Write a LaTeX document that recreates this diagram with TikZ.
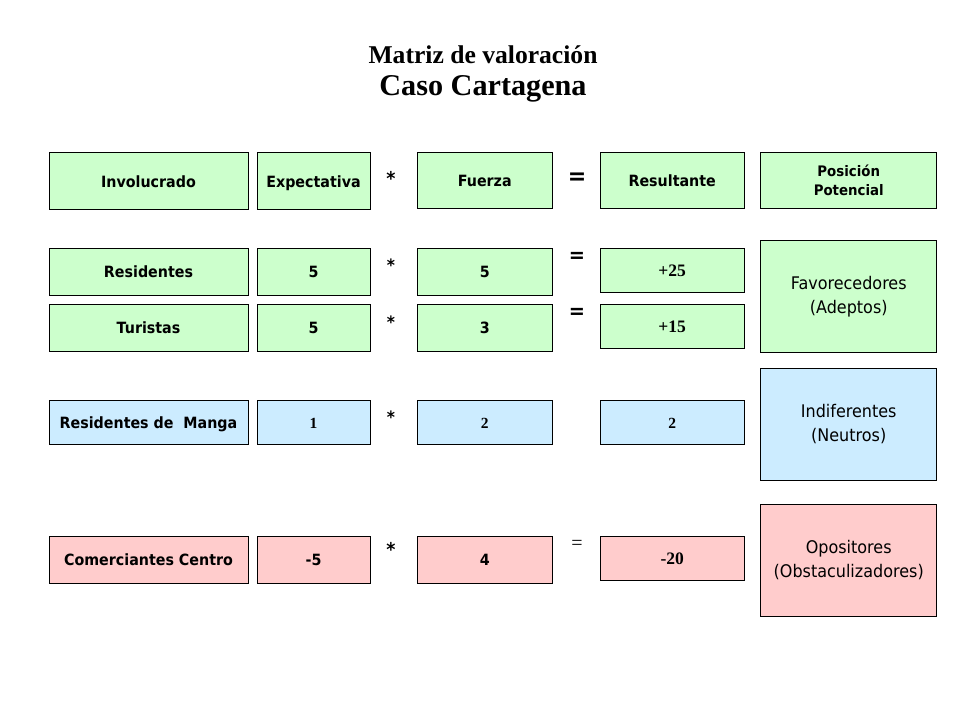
\documentclass[tikz,border=0pt]{standalone}
\usepackage{fontspec}
\setmainfont{Liberation Serif}
\setsansfont{DejaVu Sans}[FakeStretch=0.92]
\definecolor{gr}{HTML}{CCFFCC}
\definecolor{bl}{HTML}{CCECFF}
\definecolor{pk}{HTML}{FFCCCC}
\begin{document}
\begin{tikzpicture}[x=1pt,y=-1pt,
  bx/.style={draw=black,line width=0.9pt,inner sep=0pt,align=center},
  one/.style={text height=11.4pt,text depth=0pt},
  hd/.style={bx,one,font=\sffamily\bfseries\fontsize{15.5}{17}\selectfont},
  sv/.style={bx,one,font=\rmfamily\bfseries\fontsize{17.5}{19}\selectfont},
  ss/.style={bx,one,font=\rmfamily\bfseries\fontsize{15.5}{17}\selectfont},
  big/.style={bx,font=\sffamily\fontsize{17.4}{24.5}\selectfont},
  op/.style={inner sep=0pt,font=\sffamily\bfseries\fontsize{17}{18}\selectfont},
  c1/.style={minimum width=199pt},
  c2/.style={minimum width=113pt},
  c3/.style={minimum width=135.5pt},
  c4/.style={minimum width=144.3pt},
  c5/.style={minimum width=176pt}]
\useasboundingbox (0,0) rectangle (960,720);
% title
\node[font=\rmfamily\bfseries\fontsize{25.6}{28}\selectfont,anchor=base] (t1) at (483,63) {Matriz de valoración};
\node[font=\rmfamily\bfseries\fontsize{30.2}{32}\selectfont,anchor=base] (t2) at (483,95) {Caso Cartagena};
% header row
\node[hd,c1,minimum height=57pt,fill=gr] (h1) at (148.5,181.3) {Involucrado};
\node[hd,c2,minimum height=57pt,fill=gr] (h2) at (313.5,181.3) {Expectativa};
\node[hd,c3,minimum height=55.6pt,fill=gr] (h3) at (484.75,180.5) {Fuerza};
\node[hd,c4,minimum height=55.6pt,fill=gr] (h4) at (672.2,180.5) {Resultante};
\node[bx,c5,minimum height=55.6pt,fill=gr,font=\sffamily\bfseries\fontsize{14.5}{18.4}\selectfont] (h5) at (848.7,180.5) {Posición\\Potencial};
\node[op,font=\sffamily\bfseries\fontsize{19}{20}\selectfont] (hs) at (391,178) {*};
\node[op,font=\sffamily\bfseries\fontsize{24}{26}\selectfont] (he) at (577,179) {=};
% Residentes
\node[hd,c1,minimum height=47.2pt,fill=gr] (r1) at (148.5,271.9) {Residentes};
\node[hd,c2,minimum height=47.2pt,fill=gr] (r2) at (313.5,271.9) {5};
\node[hd,c3,minimum height=47.2pt,fill=gr] (r3) at (484.75,271.9) {5};
\node[sv,c4,minimum height=44pt,fill=gr] (r4) at (672.2,270.3) {+25};
\node[op] (rs) at (391,265) {*};
\node[op,font=\sffamily\bfseries\fontsize{21}{22}\selectfont] (re) at (577,257) {=};
% Turistas
\node[hd,c1,minimum height=47.4pt,fill=gr] (u1) at (148.5,328) {Turistas};
\node[hd,c2,minimum height=47.4pt,fill=gr] (u2) at (313.5,328) {5};
\node[hd,c3,minimum height=47.4pt,fill=gr] (u3) at (484.75,328) {3};
\node[sv,c4,minimum height=44pt,fill=gr] (u4) at (672.2,326.3) {+15};
\node[op] (us) at (391,322) {*};
\node[op,font=\sffamily\bfseries\fontsize{21}{22}\selectfont] (ue) at (577,313) {=};
% Favorecedores
\node[big,c5,minimum height=111.6pt,fill=gr] (p1) at (848.7,296.5) {Favorecedores\\(Adeptos)};
% Manga
\node[hd,c1,minimum height=43.6pt,fill=bl] (m1) at (148.5,422.5) {Residentes de\ \ Manga};
\node[ss,c2,minimum height=43.6pt,fill=bl] (m2) at (313.5,422.5) {1};
\node[ss,c3,minimum height=43.6pt,fill=bl] (m3) at (484.75,422.5) {2};
\node[ss,c4,minimum height=43.6pt,fill=bl] (m4) at (672.2,422.5) {2};
\node[op] (ms) at (391,417) {*};
\node[big,c5,minimum height=111.7pt,fill=bl] (p2) at (848.7,424.2) {Indiferentes\\(Neutros)};
% Comerciantes
\node[hd,c1,minimum height=46.6pt,fill=pk] (k1) at (148.5,560) {Comerciantes Centro};
\node[hd,c2,minimum height=46.6pt,fill=pk] (k2) at (313.5,560) {-5};
\node[hd,c3,minimum height=46.6pt,fill=pk] (k3) at (484.75,560) {4};
\node[sv,c4,minimum height=43.3pt,fill=pk] (k4) at (672.2,558.3) {-20};
\node[op,font=\sffamily\bfseries\fontsize{19}{20}\selectfont] (ks) at (391,549) {*};
\node[inner sep=0pt,font=\rmfamily\fontsize{20}{22}\selectfont] (ke) at (577,545) {=};
\node[big,c5,minimum height=111.7pt,fill=pk] (p3) at (848.7,560.2) {Opositores\\(Obstaculizadores)};
\end{tikzpicture}
\end{document}
